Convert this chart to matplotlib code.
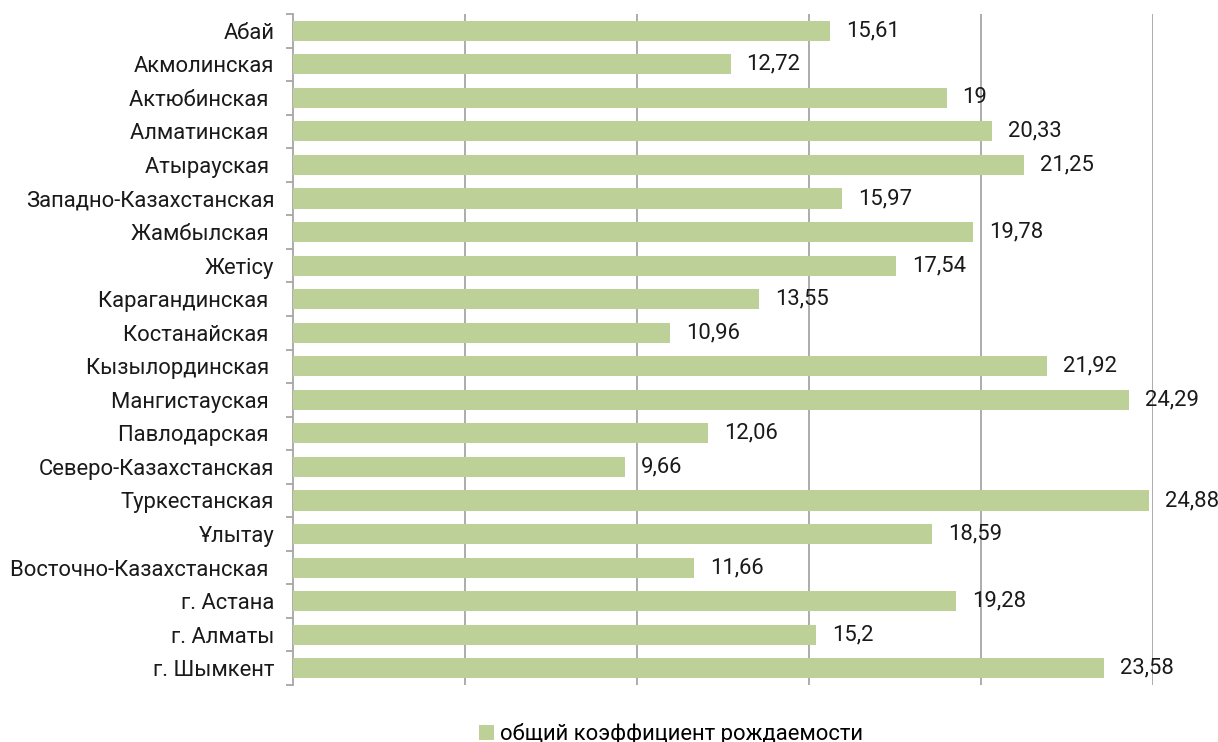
import matplotlib
matplotlib.use('Agg')
import matplotlib.pyplot as plt
from matplotlib.patches import Patch
import numpy as np

plt.rcParams['font.family'] = ['Roboto', 'DejaVu Sans']

regions = ['Абай', 'Акмолинская', 'Актюбинская ', 'Алматинская ', 'Атырауская ',
           'Западно-Казахстанская', 'Жамбылская ', 'Жетісу', 'Карагандинская ',
           'Костанайская ', 'Кызылординская ', 'Мангистауская ', 'Павлодарская ',
           'Северо-Казахстанская', 'Туркестанская', 'Ұлытау', 'Восточно-Казахстанская ',
           'г. Астана', 'г. Алматы', 'г. Шымкент']
values = [15.61, 12.72, 19, 20.33, 21.25, 15.97, 19.78, 17.54, 13.55, 10.96,
          21.92, 24.29, 12.06, 9.66, 24.88, 18.59, 11.66, 19.28, 15.2, 23.58]
legend_label = 'общий коэффициент рождаемости'

bar_color = '#bcd098'
fs = 15.8

fig = plt.figure(figsize=(12.18, 7.42), dpi=100)
ax = fig.add_axes([293/1218, 1 - 685/742, (1153 - 293)/1218, (685 - 14)/742])

y = np.arange(len(regions))
ax.barh(y, values, height=0.6, color=bar_color, zorder=3)

for yi, v in zip(y, values):
    txt = ('%g' % v).replace('.', ',')
    ax.annotate(txt, (v, yi), xytext=(11.5, 0), textcoords='offset points',
                va='center', ha='left', fontsize=fs, color='#1a1a1a')

ax.set_xlim(0, 25)
ax.set_ylim(len(regions) - 0.5, -0.5)
ax.set_xticks([5, 10, 15, 20, 25])
ax.set_xticklabels([])
ax.tick_params(axis='x', length=0)
ax.grid(axis='x', color='#a6a6a6', linewidth=1.3, zorder=0)

ax.set_yticks(y)
ax.set_yticklabels(regions, fontsize=fs, color='#1a1a1a')
ax.tick_params(axis='y', which='major', length=0, pad=13.5)
ax.set_yticks(np.arange(len(regions) + 1) - 0.5, minor=True)
ax.tick_params(axis='y', which='minor', length=5, width=1.3, color='#a6a6a6')

for s in ['top', 'right', 'bottom']:
    ax.spines[s].set_visible(False)
ax.spines['left'].set_color('#a6a6a6')
ax.spines['left'].set_linewidth(1.3)

handle = Patch(facecolor=bar_color, edgecolor='none')
fig.legend([handle], [legend_label], loc='center', bbox_to_anchor=(671/1218, 1 - 734/742),
           frameon=False, fontsize=fs, handlelength=0.7, handleheight=0.7,
           handletextpad=0.3)

fig.savefig('out.png', dpi=100)
